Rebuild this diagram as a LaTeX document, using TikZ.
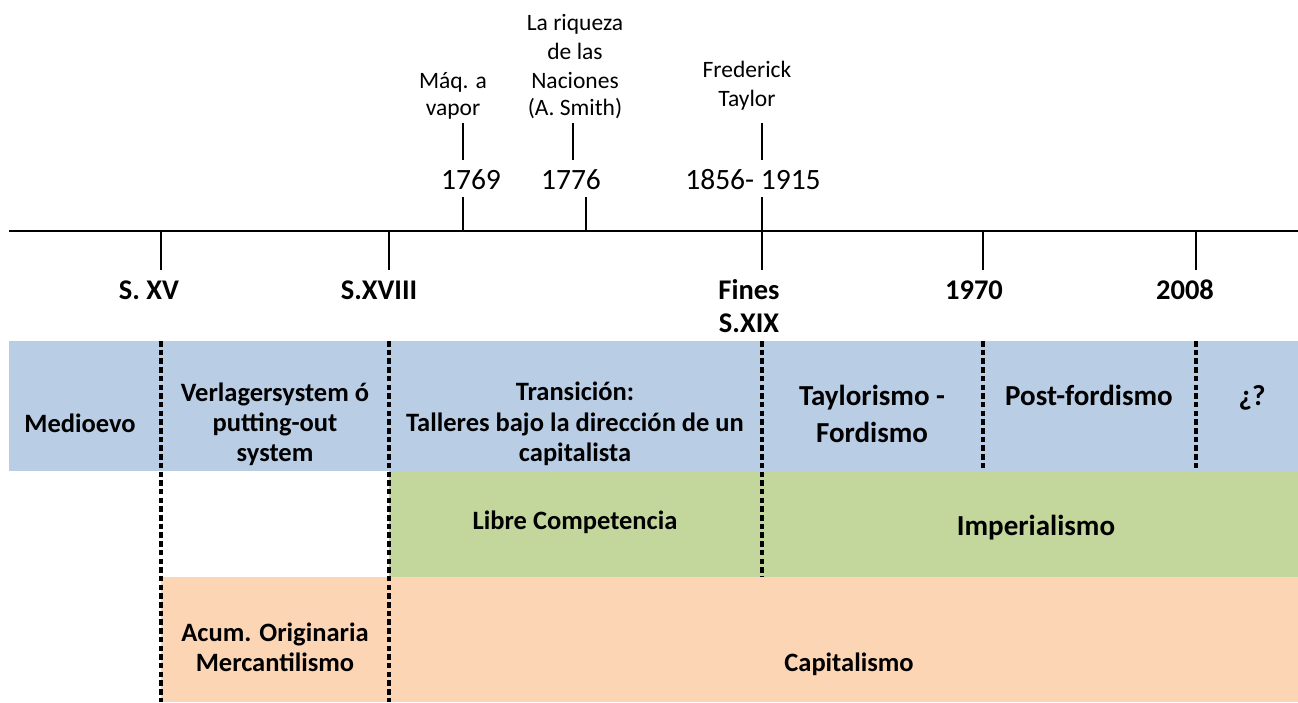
\documentclass[tikz,border=0pt]{standalone}
\usepackage{fontspec}
\setmainfont{Carlito}
\definecolor{bandblue}{HTML}{B9CDE5}
\definecolor{bandgreen}{HTML}{C3D69B}
\definecolor{bandorange}{HTML}{FCD5B5}
\begin{document}
\begin{tikzpicture}[x=1pt,y=-1pt,
  axisline/.style={line width=2.5pt,black},
  tickline/.style={line width=2.3pt,black},
  divider/.style={line width=3.1pt,black,dash pattern=on 5.5pt off 3.2pt},
  bandtxt/.style={anchor=base,inner sep=0pt,font=\fontsize{26.5}{30}\selectfont\bfseries},
  bigtxt/.style={anchor=base,inner sep=0pt,font=\fontsize{29}{34}\selectfont\bfseries},
  axlbl/.style={anchor=base,inner sep=0pt,font=\fontsize{28.5}{32}\selectfont\bfseries},
  yearlbl/.style={anchor=base,inner sep=0pt,font=\fontsize{29.5}{34}\selectfont},
  notelbl/.style={anchor=base,inner sep=0pt,font=\fontsize{23.5}{29}\selectfont}]
\useasboundingbox (0,0) rectangle (1298,702);
% bands
\fill[bandblue] (9,341) rectangle (1298,471);
\fill[bandgreen] (389,471) rectangle (1298,577);
\fill[bandorange] (161,577) rectangle (1298,702);
% axis
\coordinate (axL) at (9,231);
\coordinate (axR) at (1298,231);
\draw[axisline] (axL) -- (axR);
% ticks below axis
\foreach \n/\x in {xv/161,xviii/389,fines/762,y70/983,y08/1196}{
  \coordinate (\n top) at (\x,231);
  \coordinate (\n bot) at (\x,270);
  \draw[tickline] (\n top) -- (\n bot);
}
% ticks above axis
\foreach \n/\x in {a/463,b/586,c/762}{
  \coordinate (\n top) at (\x,197);
  \coordinate (\n bot) at (\x,231);
  \draw[tickline] (\n top) -- (\n bot);
}
\foreach \n/\x in {ua/463,ub/573,uc/762}{
  \coordinate (\n top) at (\x,123);
  \coordinate (\n bot) at (\x,160);
  \draw[tickline] (\n top) -- (\n bot);
}
% dividers
\foreach \n/\x/\yb in {d1/161/702,d2/389/702,d3/762/577,d4/983/471,d5/1196/471}{
  \coordinate (\n top) at (\x,341);
  \coordinate (\n bot) at (\x,\yb);
  \draw[divider] (\n top) -- (\n bot);
}
% annotation texts
\node[notelbl] (maq1) at (453,88) {Máq. a};
\node[notelbl] (maq2) at (453,115) {vapor};
\node[notelbl] (smith1) at (575,30) {La riqueza};
\node[notelbl] (smith2) at (575,59) {de las};
\node[notelbl] (smith3) at (575,88) {Naciones};
\node[notelbl] (smith4) at (575,115) {(A. Smith)};
\node[notelbl] (tay1) at (747,77) {Frederick};
\node[notelbl] (tay2) at (747,106) {Taylor};
% years
\node[yearlbl] (y1769) at (471,189) {1769};
\node[yearlbl] (y1776) at (571,189) {1776};
\node[yearlbl] (y1856) at (753,189) {1856- 1915};
% axis labels
\node[axlbl] (sxv) at (149,299) {S. XV};
\node[axlbl] (sxviii) at (379,299) {S.XVIII};
\node[axlbl] (fines1) at (749,299) {Fines};
\node[axlbl] (fines2) at (749,332) {S.XIX};
\node[axlbl] (l1970) at (974,299) {1970};
\node[axlbl] (l2008) at (1185,299) {2008};
% blue band texts
\node[bandtxt] (medio) at (80,432) {Medioevo};
\node[bandtxt] (verl1) at (275,401) {Verlagersystem ó};
\node[bandtxt] (verl2) at (275,431) {putting-out};
\node[bandtxt] (verl3) at (275,461) {system};
\node[bandtxt] (tran1) at (575,400) {Transición:};
\node[bandtxt] (tran2) at (575,431) {Talleres bajo la dirección de un};
\node[bandtxt] (tran3) at (575,461) {capitalista};
\node[bigtxt] (tayl1) at (872,405) {Taylorismo -};
\node[bigtxt] (tayl2) at (872,442) {Fordismo};
\node[bigtxt] (postf) at (1089,405) {Post-fordismo};
\node[bigtxt] (unk) at (1252,405) {¿?};
% green band texts
\node[bandtxt] (libre) at (575,529) {Libre Competencia};
\node[bigtxt] (imper) at (1036,535) {Imperialismo};
% orange band texts
\node[bandtxt] (acum1) at (275,641) {Acum. Originaria};
\node[bandtxt] (acum2) at (275,671) {Mercantilismo};
\node[bandtxt] (capit) at (849,671) {Capitalismo};
\end{tikzpicture}
\end{document}
